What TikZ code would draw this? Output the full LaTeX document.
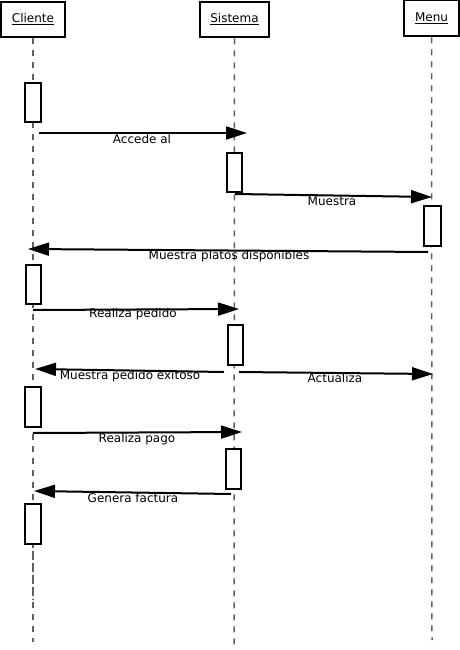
\documentclass[tikz,border=0pt]{standalone}
\usepackage{fontspec}
\setmainfont{DejaVu Sans}
\usetikzlibrary{arrows.meta}
\begin{document}
\begin{tikzpicture}[x=1pt,y=-1pt,
  actor/.style={draw, line width=2.6pt, inner sep=0pt, font=\fontsize{12}{14}\selectfont},
  life/.style={draw=black!62, line width=1.5pt, dash pattern=on 6pt off 6pt},
  act/.style={draw, line width=2pt, fill=white, minimum width=15pt, minimum height=39pt, inner sep=0pt},
  msg/.style={line width=2pt, -{Triangle[length=21pt,width=13pt]}},
  lbl/.style={font=\fontsize{12}{14}\selectfont, inner sep=0pt}]
\useasboundingbox (0,0) rectangle (460,650);

% participants
\node[actor, minimum width=64pt, minimum height=35pt] (cli) at (33,19.5) {\underline{Cliente}};
\node[actor, minimum width=69pt, minimum height=35pt] (sis) at (234.5,19.5) {\underline{Sistema}};
\node[actor, minimum width=55pt, minimum height=36pt] (men) at (431.5,18) {\underline{Menu}};

% lifelines
\coordinate (cliEnd) at (33,642);
\coordinate (sisEnd) at (234,650);
\coordinate (menEnd) at (432,640);
\draw[life] (cli.south) -- (cliEnd);
\draw[life] (sis.south) -- (sisEnd);
\draw[life] (men.south) -- (menEnd);

% activations
\node[act, minimum width=16pt] (c1) at (33,102.5) {};
\node[act] (s1) at (234.5,172.5) {};
\node[act, minimum width=17pt, minimum height=40pt] (m1) at (432.5,226) {};
\node[act] (c2) at (33.5,284.5) {};
\node[act, minimum height=40pt] (s2) at (235.5,345) {};
\node[act, minimum width=16pt, minimum height=40pt] (c3) at (33,407) {};
\node[act, minimum height=40pt] (s3) at (233.5,469) {};
\node[act, minimum width=16pt, minimum height=40pt] (c4) at (33,524) {};

% second lifeline piece below the last activation
\coordinate (c4tail) at (33,600);
\draw[life, dash pattern=on 6pt off 6pt, dash phase=6pt] (c4.south) -- (c4tail);

% message end points
\coordinate (a1) at (39,133);   \coordinate (b1) at (247,133);
\coordinate (a2) at (235,194);  \coordinate (b2) at (432,197);
\coordinate (a3) at (428,252);  \coordinate (b3) at (28,249);
\coordinate (a4) at (33,310);   \coordinate (b4) at (239,309);
\coordinate (a5) at (224,372);  \coordinate (b5) at (35,369);
\coordinate (a6) at (239,372);  \coordinate (b6) at (433,374);
\coordinate (a7) at (33,433);   \coordinate (b7) at (242,432);
\coordinate (a8) at (231,494);  \coordinate (b8) at (34,491);

% messages
\draw[msg] (a1) -- (b1);
\draw[msg] (a2) -- (b2);
\draw[msg] (a3) -- (b3);
\draw[msg] (a4) -- (b4);
\draw[msg] (a5) -- (b5);
\draw[msg] (a6) -- (b6);
\draw[msg] (a7) -- (b7);
\draw[msg] (a8) -- (b8);

% message labels
\node[lbl] (l1) at (142,139) {Accede al};
\node[lbl] (l2) at (332,201) {Muestra};
\node[lbl] (l3) at (229,256) {Muestra platos disponibles};
\node[lbl] (l4) at (133,314) {Realiza pedido};
\node[lbl] (l5) at (130,376) {Muestra pedido exitoso};
\node[lbl] (l6) at (335,378) {Actualiza};
\node[lbl] (l7) at (137,439) {Realiza pago};
\node[lbl] (l8) at (133,498) {Genera factura};
\end{tikzpicture}
\end{document}
